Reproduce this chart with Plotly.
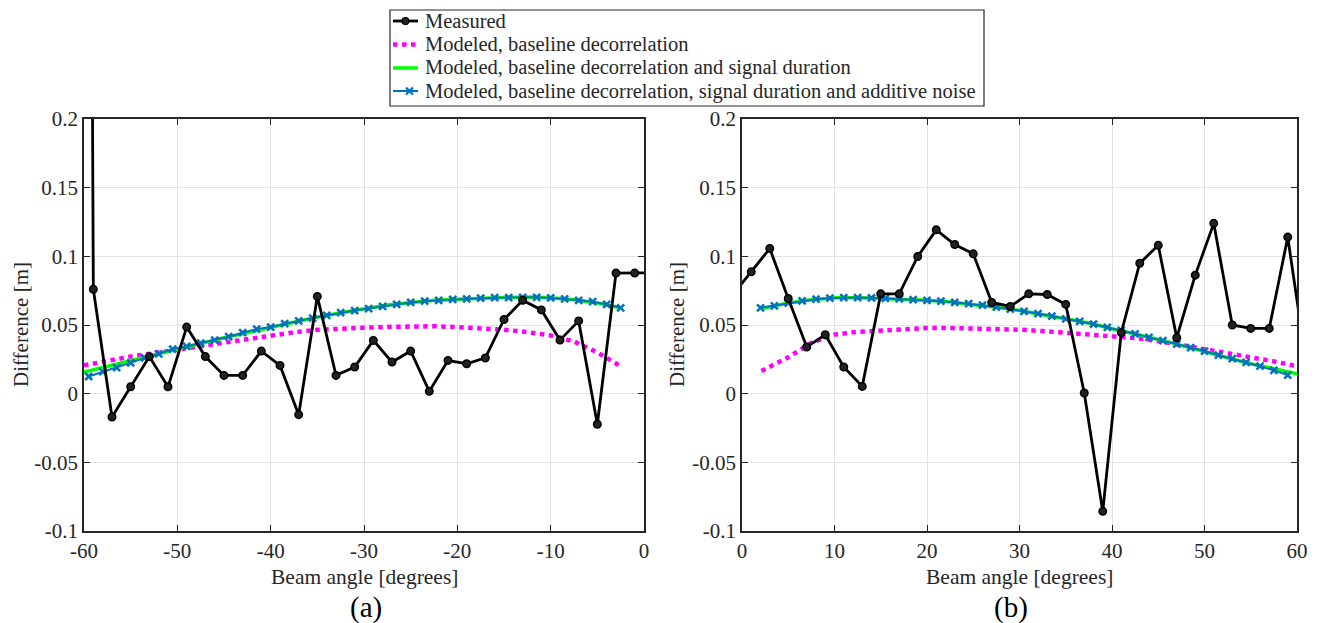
import plotly.graph_objects as go

# ---------------- data ----------------
# Panel (a): negative beam angles
meas_a_x = [-61, -59, -57, -55, -53, -51, -49, -47, -45, -43, -41, -39, -37, -35, -33, -31,
            -29, -27, -25, -23, -21, -19, -17, -15, -13, -11, -9, -7, -5, -3, -1, 1]
meas_a_y = [3.0, 0.076, -0.017, 0.005, 0.027, 0.005, 0.0485, 0.027, 0.0133, 0.0133, 0.031,
            0.0206, -0.0153, 0.0708, 0.0133, 0.0194, 0.0388, 0.023, 0.031, 0.0017, 0.0242,
            0.0218, 0.026, 0.054, 0.068, 0.061, 0.039, 0.053, -0.0223, 0.0878, 0.0878, 0.088]

base_a_x = [-60, -57.5, -55, -52.5, -50, -47.5, -45, -42.5, -40, -37.5, -35, -32.5, -30,
            -27.5, -25, -22.5, -20, -17.5, -15, -12.5, -10, -7.5, -5, -2.5]
base_a_y = [0.0206, 0.024, 0.027, 0.0295, 0.032, 0.0348, 0.037, 0.040, 0.0424, 0.0447, 0.0465,
            0.0475, 0.048, 0.0486, 0.049, 0.0491, 0.0485, 0.0478, 0.0466, 0.0448, 0.0424,
            0.038, 0.030, 0.020]

dur_a_x = base_a_x
dur_a_y = [0.0158, 0.020, 0.0238, 0.028, 0.032, 0.0368, 0.0407, 0.0444, 0.0485, 0.052, 0.0558,
           0.059, 0.0618, 0.0645, 0.0664, 0.068, 0.0688, 0.0696, 0.070, 0.0703, 0.0698,
           0.0684, 0.066, 0.0625]

noise_a_x = [-59.5, -58, -56.5, -55, -53.5, -52, -50.5, -49, -47.5, -46, -44.5, -43, -41.5,
             -40, -38.5, -37, -35.5, -34, -32.5, -31, -29.5, -28, -26.5, -25, -23.5, -22,
             -20.5, -19, -17.5, -16, -14.5, -13, -11.5, -10, -8.5, -7, -5.5, -4, -2.5]
noise_a_y = [0.0125, 0.016, 0.019, 0.0225, 0.026, 0.029, 0.0325, 0.0345, 0.0368, 0.039, 0.0415,
             0.0444, 0.047, 0.0485, 0.051, 0.053, 0.055, 0.057, 0.059, 0.0605, 0.062, 0.0635,
             0.065, 0.0664, 0.0673, 0.068, 0.0686, 0.069, 0.0695, 0.0699, 0.070, 0.0702,
             0.0702, 0.0698, 0.069, 0.068, 0.067, 0.065, 0.0625]

# Panel (b): positive beam angles
meas_b_x = [-1, 1, 3, 5, 7, 9, 11, 13, 15, 17, 19, 21, 23, 25, 27, 29, 31, 33, 35, 37, 39,
            41, 43, 45, 47, 49, 51, 53, 55, 57, 59, 61]
meas_b_y = [0.072, 0.0887, 0.1057, 0.0693, 0.034, 0.0429, 0.0194, 0.0053, 0.0727, 0.0727,
            0.0999, 0.1193, 0.1086, 0.1018, 0.0664, 0.0635, 0.0727, 0.0722, 0.065, 0.0005,
            -0.0857, 0.0444, 0.095, 0.108, 0.0407, 0.0863, 0.124, 0.050, 0.0475, 0.0475,
            0.114, 0.022]

base_b_x = [2.1, 5, 7.5, 10, 12.5, 15, 17.5, 20, 22.5, 25, 27.5, 30, 32.5, 35, 37.5, 40,
            42.5, 45, 47.5, 50, 52.5, 55, 57.5, 60]
base_b_y = [0.0165, 0.0265, 0.037, 0.043, 0.045, 0.046, 0.0472, 0.0478, 0.0478, 0.0475,
            0.0471, 0.0466, 0.0456, 0.0444, 0.0434, 0.0422, 0.0405, 0.0383, 0.0355, 0.032,
            0.0295, 0.0267, 0.0235, 0.0199]

dur_b_x = [2, 5, 7.5, 10, 12.5, 15, 17.5, 20, 22.5, 25, 27.5, 30, 32.5, 35, 37.5, 40, 42.5,
           45, 47.5, 50, 52.5, 55, 57.5, 60]
dur_b_y = [0.0618, 0.066, 0.0684, 0.0698, 0.0698, 0.0693, 0.0686, 0.068, 0.0667, 0.065,
           0.063, 0.0606, 0.0577, 0.0545, 0.0514, 0.0473, 0.0436, 0.0395, 0.0352, 0.031,
           0.0262, 0.0218, 0.0182, 0.0145]

noise_b_x = [2, 3.5, 5, 6.5, 8, 9.5, 11, 12.5, 14, 15.5, 17, 18.5, 20, 21.5, 23, 24.5, 26,
             27.5, 29, 30.5, 32, 33.5, 35, 36.5, 38, 39.5, 41, 42.5, 44, 45.5, 47, 48.5, 50,
             51.5, 53, 54.5, 56, 57.5, 59]
noise_b_y = [0.0625, 0.064, 0.066, 0.0675, 0.0688, 0.0695, 0.070, 0.070, 0.0698, 0.0694,
             0.069, 0.0685, 0.068, 0.0673, 0.0665, 0.0655, 0.0645, 0.063, 0.0616, 0.060,
             0.0583, 0.0565, 0.0545, 0.0527, 0.0506, 0.0482, 0.046, 0.0436, 0.041, 0.0386,
             0.036, 0.0335, 0.031, 0.028, 0.0255, 0.0228, 0.020, 0.017, 0.0135]

names = ["Measured", "Modeled, baseline decorrelation",
         "Modeled, baseline decorrelation and signal duration",
         "Modeled, baseline decorrelation, signal duration and additive noise"]

y_ticks = [-0.1, -0.05, 0, 0.05, 0.1, 0.15, 0.2]
y_ticktext = ["-0.1", "-0.05", "0", "0.05", "0.1", "0.15", "0.2"]
xa_ticks = [-60, -50, -40, -30, -20, -10, 0]
xa_ticktext = ["-60", "-50", "-40", "-30", "-20", "-10", "0"]
xb_ticks = [0, 10, 20, 30, 40, 50, 60]
xb_ticktext = ["0", "10", "20", "30", "40", "50", "60"]

# ---------------- styles / layout helpers ----------------
FONT = "Liberation Serif, Times New Roman, Times, serif"
TXT = "#262626"
BLACK = "#000000"
MAGENTA = "#FF00FF"
GREEN = "#00FF00"
BLUE = "#0072BD"

OFF = 8                       # page body margin of the html page
W, H = 1320 - OFF, 623 - OFF  # figure size so it fits the window


def X(px):
    return (px - OFF) / W


def Y(py):
    return 1 - (py - OFF) / H


styles = [
    dict(line=dict(color=BLACK, width=2.8), mode="lines+markers",
         marker=dict(symbol="circle", size=7.5, color="#222222", line=dict(color=BLACK, width=1.5))),
    dict(line=dict(color=MAGENTA, width=4.5, dash="dot"), mode="lines"),
    dict(line=dict(color=GREEN, width=3.5), mode="lines"),
    dict(line=dict(color=BLUE, width=2), mode="lines+markers",
         marker=dict(symbol="x-thin", size=7, line=dict(color=BLUE, width=2.5))),
]

fig = go.Figure()


def add_panel(xref, yref, series):
    # draw order: modeled curves first, measured on top
    for idx in [1, 2, 3, 0]:
        xs, ys = series[idx]
        fig.add_trace(go.Scatter(x=xs, y=ys, name=names[idx], showlegend=False,
                                 xaxis=xref, yaxis=yref, **styles[idx]))


add_panel("x", "y", [(meas_a_x, meas_a_y), (base_a_x, base_a_y), (dur_a_x, dur_a_y),
                     (noise_a_x, noise_a_y)])
add_panel("x2", "y2", [(meas_b_x, meas_b_y), (base_b_x, base_b_y), (dur_b_x, dur_b_y),
                       (noise_b_x, noise_b_y)])

ax_common = dict(showline=True, linecolor=TXT, linewidth=1.5, mirror="ticks",
                 ticks="inside", ticklen=6, tickcolor=TXT, tickwidth=1.2,
                 showgrid=True, gridcolor="#E3E3E3", gridwidth=1, zeroline=False,
                 tickfont=dict(family=FONT, size=21, color=TXT))

yd = [Y(531), Y(119)]
fig.update_layout(
    width=W, height=H, margin=dict(l=0, r=0, t=0, b=0, autoexpand=False),
    font=dict(family=FONT, color=TXT),
    paper_bgcolor="white", plot_bgcolor="white", showlegend=False,
    xaxis=dict(domain=[X(84), X(644)], range=[-60, 0], tickvals=xa_ticks,
               ticktext=xa_ticktext, anchor="y", **ax_common),
    yaxis=dict(domain=yd, range=[-0.1, 0.2], tickvals=y_ticks, ticktext=y_ticktext,
               anchor="x", **ax_common),
    xaxis2=dict(domain=[X(742), X(1297)], range=[0, 60], tickvals=xb_ticks,
                ticktext=xb_ticktext, anchor="y2", **ax_common),
    yaxis2=dict(domain=yd, range=[-0.1, 0.2], tickvals=y_ticks, ticktext=y_ticktext,
                anchor="x2", **ax_common),
)

# ---------------- legend box (drawn in page pixels) ----------------
shapes = [dict(type="rect", xref="paper", yref="paper", x0=X(390), x1=X(984),
               y0=Y(106), y1=Y(10), line=dict(color=TXT, width=1.2), fillcolor="white",
               layer="above")]
annotations = []
rows = [21, 44.5, 68, 91]
for i, ry in enumerate(rows):
    st = styles[i]
    shapes.append(dict(type="line", xref="paper", yref="paper", x0=X(393), x1=X(418),
                       y0=Y(ry), y1=Y(ry), line=st["line"], layer="above"))
    if i == 0:
        shapes.append(dict(type="circle", xref="paper", yref="paper", x0=X(402), x1=X(409),
                           y0=Y(ry + 3.5), y1=Y(ry - 3.5), fillcolor="#222222",
                           line=dict(color=BLACK, width=1.2), layer="above"))
    if i == 3:
        for dy in (-3.5, 3.5):
            shapes.append(dict(type="line", xref="paper", yref="paper", x0=X(406), x1=X(413),
                               y0=Y(ry - dy), y1=Y(ry + dy),
                               line=dict(color=BLUE, width=2.3), layer="above"))
    annotations.append(dict(text=names[i], x=X(423), y=Y(ry), xanchor="left",
                            yanchor="middle",
                            font=dict(family=FONT, size=20.5, color=TXT)))

ann_font = dict(family=FONT, size=21, color=TXT)
annotations += [
    dict(text="Difference [m]", x=X(21), y=Y(325), textangle=-90, font=ann_font,
         xanchor="center", yanchor="middle"),
    dict(text="Difference [m]", x=X(677), y=Y(325), textangle=-90, font=ann_font,
         xanchor="center", yanchor="middle"),
    dict(text="Beam angle [degrees]", x=X(364), y=Y(577), font=dict(family=FONT, size=21.5, color=TXT),
         xanchor="center", yanchor="middle"),
    dict(text="Beam angle [degrees]", x=X(1019), y=Y(577), font=dict(family=FONT, size=21.5, color=TXT),
         xanchor="center", yanchor="middle"),
    dict(text="(a)", x=X(366), y=Y(607), font=dict(family=FONT, size=29, color=BLACK),
         xanchor="center", yanchor="middle"),
    dict(text="(b)", x=X(1011), y=Y(607), font=dict(family=FONT, size=29, color=BLACK),
         xanchor="center", yanchor="middle"),
]
for a in annotations:
    a.update(xref="paper", yref="paper", showarrow=False)
fig.update_layout(shapes=shapes, annotations=annotations)

fig.write_html("out.html")
